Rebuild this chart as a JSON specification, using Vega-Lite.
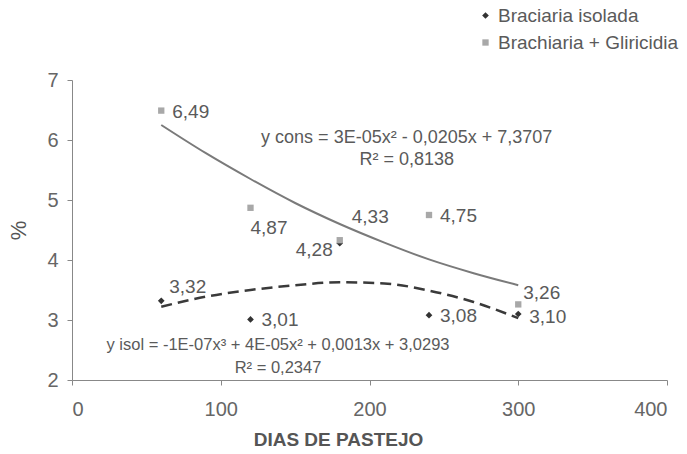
{
  "$schema": "https://vega.github.io/schema/vega-lite/v6.json",
  "autosize": "none",
  "width": 595,
  "height": 300,
  "padding": {"left": 72, "top": 80, "right": 20, "bottom": 74},
  "background": "white",
  "config": {
    "view": {"stroke": null},
    "font": "Liberation Sans",
    "text": {"font": "Liberation Sans", "fontSize": 19, "fill": "#5a5a5a"}
  },
  "datasets": {
    "pts": [
      {"dias": 60, "valor": 3.32, "serie": "Braciaria isolada", "rotulo": "3,32"},
      {"dias": 120, "valor": 3.01, "serie": "Braciaria isolada", "rotulo": "3,01"},
      {"dias": 180, "valor": 4.28, "serie": "Braciaria isolada", "rotulo": "4,28"},
      {"dias": 240, "valor": 3.08, "serie": "Braciaria isolada", "rotulo": "3,08"},
      {"dias": 300, "valor": 3.10, "serie": "Braciaria isolada", "rotulo": "3,10"},
      {"dias": 60, "valor": 6.49, "serie": "Brachiaria + Gliricidia", "rotulo": "6,49"},
      {"dias": 120, "valor": 4.87, "serie": "Brachiaria + Gliricidia", "rotulo": "4,87"},
      {"dias": 180, "valor": 4.33, "serie": "Brachiaria + Gliricidia", "rotulo": "4,33"},
      {"dias": 240, "valor": 4.75, "serie": "Brachiaria + Gliricidia", "rotulo": "4,75"},
      {"dias": 300, "valor": 3.26, "serie": "Brachiaria + Gliricidia", "rotulo": "3,26"}
    ],
    "trend": [
      {"dias": 60, "valor": 6.25, "serie": "cons"},
      {"dias": 90, "valor": 5.78, "serie": "cons"},
      {"dias": 120, "valor": 5.35, "serie": "cons"},
      {"dias": 150, "valor": 4.95, "serie": "cons"},
      {"dias": 180, "valor": 4.60, "serie": "cons"},
      {"dias": 210, "valor": 4.29, "serie": "cons"},
      {"dias": 240, "valor": 4.01, "serie": "cons"},
      {"dias": 270, "valor": 3.78, "serie": "cons"},
      {"dias": 300, "valor": 3.58, "serie": "cons"},
      {"dias": 60, "valor": 3.22, "serie": "isol"},
      {"dias": 90, "valor": 3.39, "serie": "isol"},
      {"dias": 120, "valor": 3.50, "serie": "isol"},
      {"dias": 150, "valor": 3.58, "serie": "isol"},
      {"dias": 180, "valor": 3.63, "serie": "isol"},
      {"dias": 210, "valor": 3.61, "serie": "isol"},
      {"dias": 240, "valor": 3.49, "serie": "isol"},
      {"dias": 270, "valor": 3.30, "serie": "isol"},
      {"dias": 300, "valor": 3.03, "serie": "isol"}
    ],
    "eq": [
      {"dias": 225, "valor": 6.03, "txt": "y cons = 3E-05x² - 0,0205x + 7,3707", "tam": 18},
      {"dias": 225, "valor": 5.66, "txt": "R² = 0,8138", "tam": 18},
      {"dias": 138.5, "valor": 2.58, "txt": "y isol = -1E-07x³ + 4E-05x² + 0,0013x + 3,0293", "tam": 16.5},
      {"dias": 138.5, "valor": 2.2, "txt": "R² = 0,2347", "tam": 16.5}
    ]
  },
  "encoding": {
    "x": {
      "field": "dias", "type": "quantitative",
      "scale": {"domain": [0, 400], "nice": false, "zero": false},
      "axis": {
        "title": "DIAS DE PASTEJO", "values": [0, 100, 200, 300, 400], "grid": false,
        "domainColor": "#888", "tickColor": "#888", "tickSize": 5,
        "labelFont": "Liberation Sans", "labelFontSize": 20, "labelColor": "#666", "labelPadding": 14,
        "titleFont": "Liberation Sans", "titleFontSize": 19, "titleFontWeight": "bold", "titleColor": "#555",
        "titleX": 266, "titleY": 50, "titleBaseline": "top", "titleAlign": "center"
      }
    },
    "y": {
      "field": "valor", "type": "quantitative",
      "scale": {"domain": [2, 7], "nice": false, "zero": false},
      "axis": {
        "title": "%", "values": [2, 3, 4, 5, 6, 7], "grid": false,
        "domainColor": "#888", "tickColor": "#888", "tickSize": 5,
        "labelFont": "Liberation Sans", "labelFontSize": 20, "labelColor": "#666", "labelPadding": 9,
        "titleFont": "Liberation Sans", "titleFontSize": 22, "titleFontWeight": "normal", "titleColor": "#555",
        "titleX": -54, "titleY": 150, "titleAngle": -90, "titleBaseline": "middle", "titleAlign": "center"
      }
    }
  },
  "layer": [
    {
      "data": {"name": "trend"},
      "transform": [{"filter": "datum.serie === 'cons'"}],
      "mark": {"type": "line", "interpolate": "monotone", "stroke": "#7a7a7a", "strokeWidth": 2}
    },
    {
      "data": {"name": "trend"},
      "transform": [{"filter": "datum.serie === 'isol'"}],
      "mark": {"type": "line", "interpolate": "monotone", "stroke": "#3a3a3a", "strokeWidth": 2.5, "strokeDash": [11, 6]}
    },
    {
      "data": {"name": "pts"},
      "mark": {"type": "point", "filled": true, "opacity": 1},
      "encoding": {
        "shape": {"field": "serie", "type": "nominal",
          "scale": {"domain": ["Braciaria isolada", "Brachiaria + Gliricidia"], "range": ["diamond", "square"]},
          "legend": null},
        "color": {"field": "serie", "type": "nominal",
          "scale": {"domain": ["Braciaria isolada", "Brachiaria + Gliricidia"], "range": ["#333333", "#a8a8a8"]},
          "legend": {
            "title": null, "orient": "none", "legendX": 404, "legendY": -74,
            "labelFont": "Liberation Sans", "labelFontSize": 19, "labelColor": "#5a5a5a", "labelLimit": 400,
            "symbolSize": 40, "rowPadding": 7, "labelOffset": 3
          }
        },
        "size": {"field": "serie", "type": "nominal",
          "scale": {"domain": ["Braciaria isolada", "Brachiaria + Gliricidia"], "range": [45, 40]},
          "legend": null}
      }
    },
    {
      "data": {"name": "pts"},
      "transform": [{"filter": "indexof(['6,49','3,01','3,08','4,75'], datum.rotulo) >= 0"}],
      "mark": {"type": "text", "align": "left", "baseline": "middle", "dx": 11, "dy": 1},
      "encoding": {"text": {"field": "rotulo"}}
    },
    {
      "data": {"name": "pts"},
      "transform": [{"filter": "datum.rotulo === '3,10'"}],
      "mark": {"type": "text", "align": "left", "baseline": "middle", "dx": 11, "dy": 3},
      "encoding": {"text": {"field": "rotulo"}}
    },
    {
      "data": {"name": "pts"},
      "transform": [{"filter": "datum.rotulo === '3,32'"}],
      "mark": {"type": "text", "align": "left", "baseline": "middle", "dx": 8, "dy": -14},
      "encoding": {"text": {"field": "rotulo"}}
    },
    {
      "data": {"name": "pts"},
      "transform": [{"filter": "datum.rotulo === '3,26'"}],
      "mark": {"type": "text", "align": "left", "baseline": "middle", "dx": 5, "dy": -11},
      "encoding": {"text": {"field": "rotulo"}}
    },
    {
      "data": {"name": "pts"},
      "transform": [{"filter": "datum.rotulo === '4,87'"}],
      "mark": {"type": "text", "align": "left", "baseline": "middle", "dx": 0, "dy": 20},
      "encoding": {"text": {"field": "rotulo"}}
    },
    {
      "data": {"name": "pts"},
      "transform": [{"filter": "datum.rotulo === '4,28'"}],
      "mark": {"type": "text", "align": "right", "baseline": "middle", "dx": -7, "dy": 7},
      "encoding": {"text": {"field": "rotulo"}}
    },
    {
      "data": {"name": "pts"},
      "transform": [{"filter": "datum.rotulo === '4,33'"}],
      "mark": {"type": "text", "align": "left", "baseline": "middle", "dx": 12, "dy": -23},
      "encoding": {"text": {"field": "rotulo"}}
    },
    {
      "data": {"name": "eq"},
      "mark": {"type": "text", "align": "center", "baseline": "middle"},
      "encoding": {"text": {"field": "txt"}, "size": {"field": "tam", "type": "quantitative", "scale": null}}
    }
  ]
}
